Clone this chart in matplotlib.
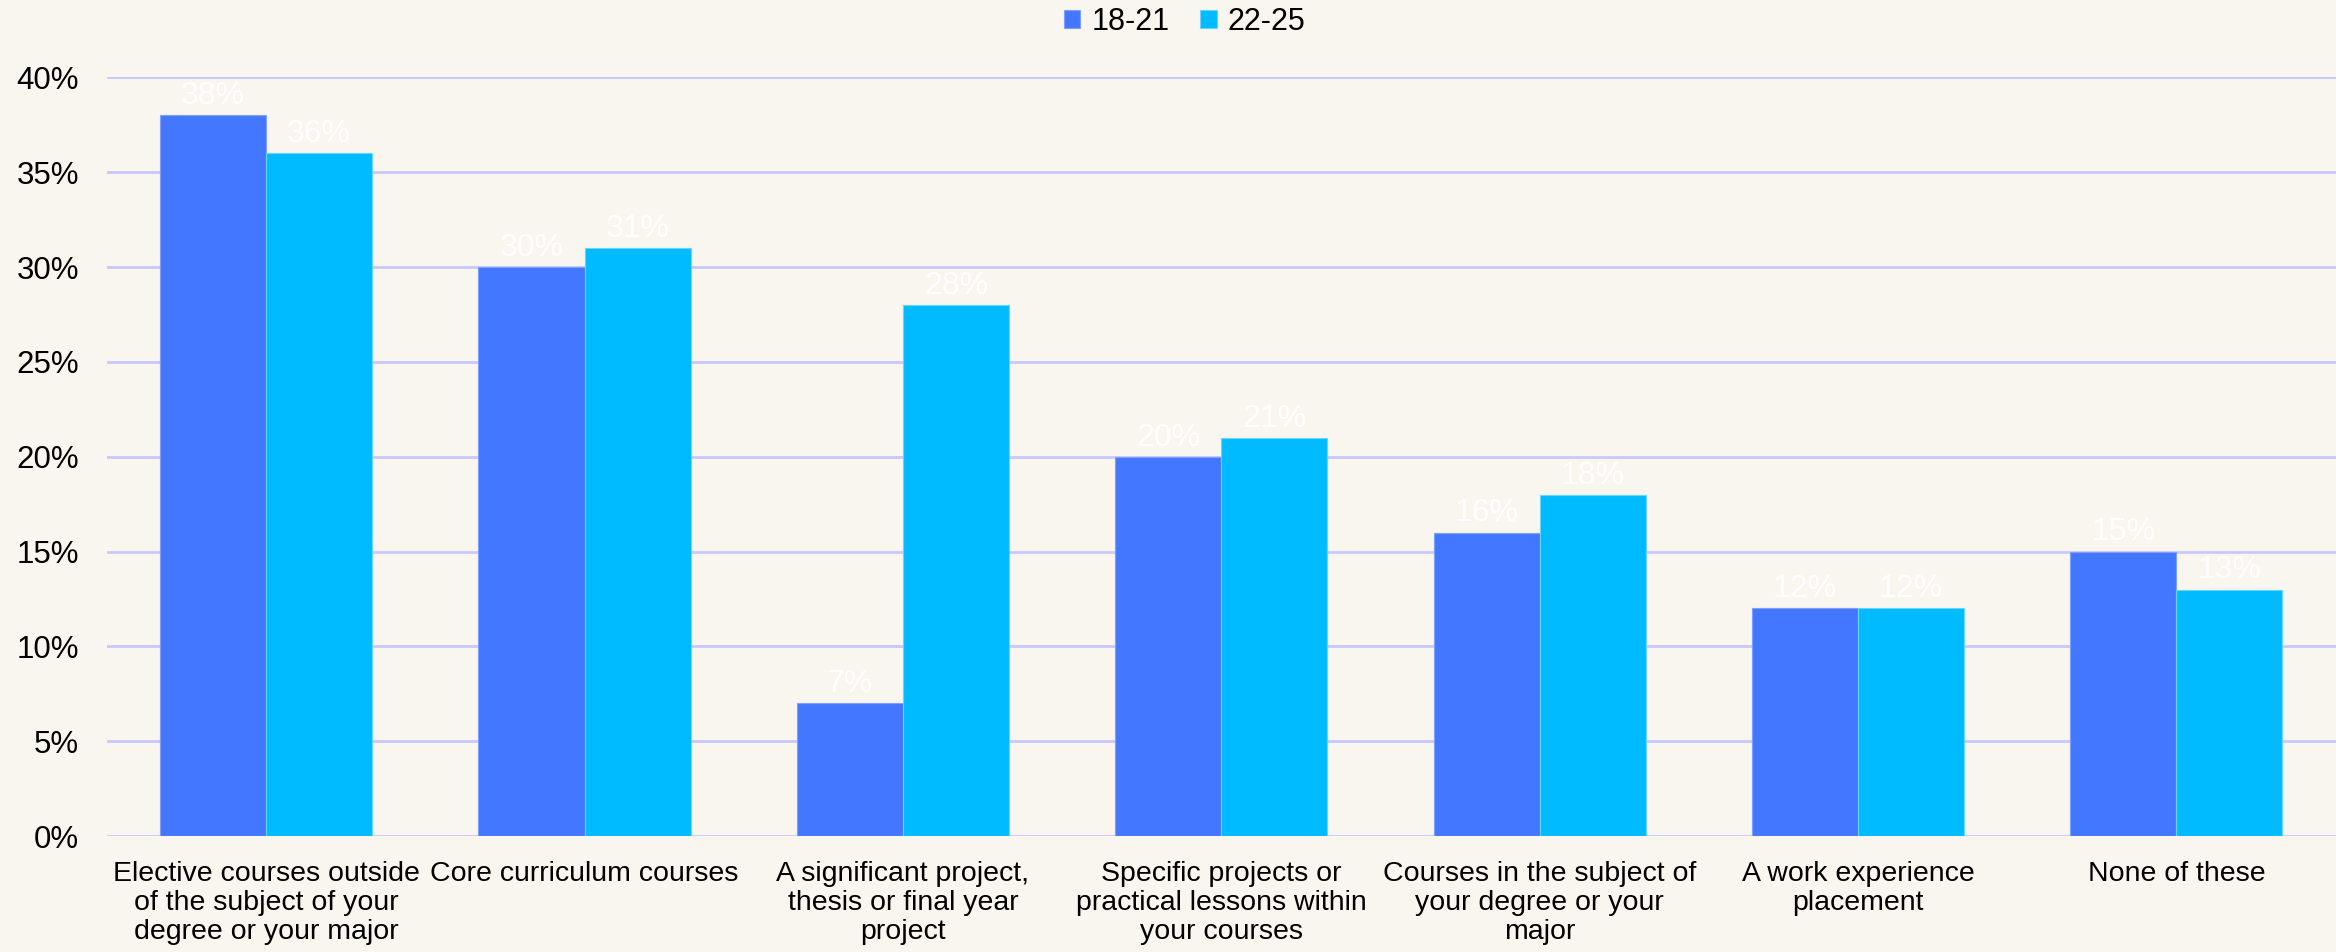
import matplotlib
matplotlib.use("Agg")
import matplotlib.pyplot as plt
import numpy as np

categories = [
    "Elective courses outside\nof the subject of your\ndegree or your major",
    "Core curriculum courses",
    "A significant project,\nthesis or final year\nproject",
    "Specific projects or\npractical lessons within\nyour courses",
    "Courses in the subject of\nyour degree or your\nmajor",
    "A work experience\nplacement",
    "None of these",
]
series_names = ["18-21", "22-25"]
values_18_21 = [38, 30, 7, 20, 16, 12, 15]
values_22_25 = [36, 31, 28, 21, 18, 12, 13]
yticks = [0, 5, 10, 15, 20, 25, 30, 35, 40]

plt.rcParams['font.family'] = ['Liberation Sans', 'DejaVu Sans']

bg = "#F9F5EF"
c1 = "#4477FF"
c2 = "#00BBFF"

fig = plt.figure(figsize=(23.36, 9.52), dpi=100, facecolor=bg)
ax = fig.add_axes([0.0458, 0.1218, 0.954, 0.7968])
ax.set_facecolor(bg)

x = np.arange(len(categories))
w = 1/3
b1 = ax.bar(x - w/2, values_18_21, w, color=c1, edgecolor="#7FA0FF", linewidth=0.8, label=series_names[0], zorder=3)
b2 = ax.bar(x + w/2, values_22_25, w, color=c2, edgecolor="#66D6FF", linewidth=0.8, label=series_names[1], zorder=3)

for bars, vals in ((b1, values_18_21), (b2, values_22_25)):
    for rect, v in zip(bars, vals):
        ax.annotate(f"{v}%", (rect.get_x() + rect.get_width()/2, v),
                    xytext=(0, 3), textcoords="offset points",
                    ha="center", va="bottom", color="white", fontsize=23, zorder=4)

ax.set_xlim(-0.5, len(categories) - 0.5)
ax.set_ylim(0, 40)
ax.set_yticks(yticks)
ax.set_yticklabels([f"{t}%" for t in yticks])
ax.set_xticks(x)
ax.set_xticklabels(categories, fontsize=20.5, linespacing=1.15)
ax.tick_params(axis="y", length=0, pad=20, labelsize=22.5)
ax.tick_params(axis="x", length=0, pad=18)
ax.grid(axis="y", color="#C8C8FF", linewidth=2, zorder=0)
for s in ax.spines.values():
    s.set_visible(False)

leg = fig.legend(handles=[b1, b2], labels=series_names, loc="center", bbox_to_anchor=(0.507, 0.977),
                 ncol=2, frameon=False, fontsize=22, handlelength=0.55, handleheight=0.55,
                 handletextpad=0.35, columnspacing=1.0)

fig.savefig("out.png", dpi=100, facecolor=bg)
